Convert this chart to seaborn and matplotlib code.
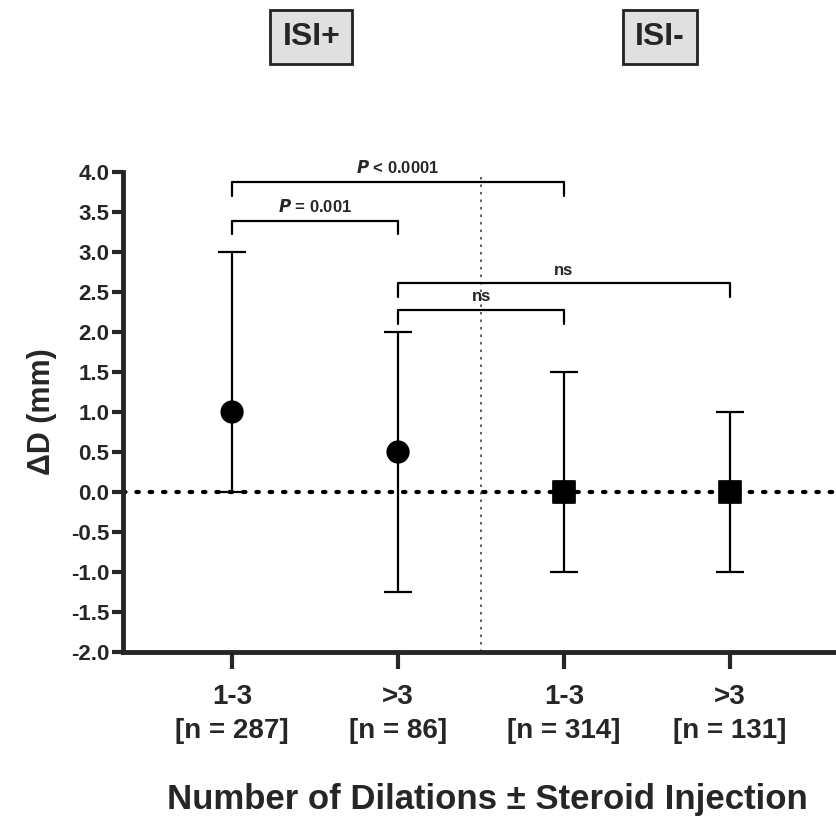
import matplotlib
matplotlib.use("Agg")
import matplotlib.pyplot as plt
import numpy as np
import pandas as pd
import seaborn as sns

groups = ["1-3\n[n = 287]", ">3\n[n = 86]", "1-3\n[n = 314]", ">3\n[n = 131]"]
isi = ["ISI+", "ISI+", "ISI-", "ISI-"]
medians = [1.0, 0.5, 0.0, 0.0]
lower = [0.0, -1.25, -1.0, -1.0]
upper = [3.0, 2.0, 1.5, 1.0]

# comparison brackets: (left group, right group, height, label)
brackets = [
    (0, 2, 3.875, "< 0.0001"),
    (0, 1, 3.39, "= 0.001"),
    (1, 3, 2.61, "ns"),
    (1, 2, 2.275, "ns"),
]

sns.set_style("ticks")
plt.rcParams["font.family"] = ["Liberation Sans", "DejaVu Sans"]

df = pd.DataFrame({"pos": np.arange(len(groups)), "median": medians, "lower": lower,
                   "upper": upper, "isi": isi})

fig = plt.figure(figsize=(8.37, 8.27), dpi=100)
ax = fig.add_axes([0.147, 0.2116, 0.853, 0.5804])

ax.axhline(0, color="black", lw=3, ls=(0, (0.6, 2.6)), dash_capstyle="round", zorder=1)
ax.axvline(1.5, color="#444444", lw=1.2, ls=(0, (1.5, 3)), zorder=1)

ax.errorbar(df["pos"], df["median"],
            yerr=[df["median"] - df["lower"], df["upper"] - df["median"]],
            fmt="none", ecolor="black", elinewidth=1.6, capsize=10, capthick=1.6, zorder=2)
sns.scatterplot(data=df, x="pos", y="median", style="isi", markers={"ISI+": "o", "ISI-": "s"},
                color="black", s=240, edgecolor="black", legend=False, ax=ax, zorder=3)

for a, b, h, lab in brackets:
    ax.plot([a, a, b, b], [h - 0.17, h, h, h - 0.17], color="black", lw=1.6, clip_on=False)
    if lab == "ns":
        txt = "ns"
    else:
        txt = "$\\bfit{P}$ " + lab
    ax.text((a + b) / 2, h + 0.07, txt, ha="center", va="bottom", fontsize=12,
            fontweight="bold")

ax.set_xlim(-0.657, 3.645)
ax.set_ylim(-2.0, 4.0)
ax.set_yticks(np.arange(-2.0, 4.01, 0.5))
ax.set_yticklabels([f"{v:.1f}" for v in np.arange(-2.0, 4.01, 0.5)], fontsize=16, fontweight="bold")
ax.set_xticks(df["pos"])
ax.set_xticklabels(groups, fontsize=20, fontweight="bold", linespacing=1.4)
ax.tick_params(axis="y", length=8, width=3, pad=2)
ax.tick_params(axis="x", length=12, width=3, pad=11)
for side in ["left", "bottom"]:
    ax.spines[side].set_linewidth(3.5)
sns.despine(ax=ax)

ax.set_ylabel("ΔD (mm)", fontsize=22, fontweight="bold", labelpad=10)
ax.set_xlabel("Number of Dilations ± Steroid Injection", fontsize=25, fontweight="bold",
              va="center")
ax.xaxis.set_label_coords(0.51, -0.308)

for lab, xc in [("ISI+", 0.372), ("ISI-", 0.788)]:
    fig.text(xc, 0.955, lab, ha="center", va="center", fontsize=23, fontweight="bold",
             bbox=dict(boxstyle="square,pad=0.38", facecolor="#e0e0e0", edgecolor="#222222", lw=2))

fig.savefig("out.png", dpi=100, facecolor="white")
